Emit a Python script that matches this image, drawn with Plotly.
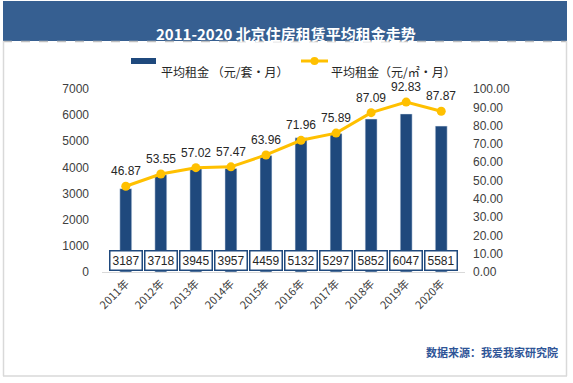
import plotly.graph_objects as go

years = ["2011年", "2012年", "2013年", "2014年", "2015年", "2016年", "2017年", "2018年", "2019年", "2020年"]
rent_per_unit = [3187, 3718, 3945, 3957, 4459, 5132, 5297, 5852, 6047, 5581]
rent_per_sqm = [46.87, 53.55, 57.02, 57.47, 63.96, 71.96, 75.89, 87.09, 92.83, 87.87]

W, H = 573, 383
L, R, T, B = 102, 465, 89, 272  # plot area in pixels

def px(x):
    return (x - L) / (R - L)

def py(y):
    return (B - y) / (B - T)

BAR = "#1F497D"
LINE = "#FFC000"
FONT = "Liberation Sans, Noto Sans CJK SC, sans-serif"
CJK = "Noto Sans CJK SC, sans-serif"

fig = go.Figure()
fig.add_trace(go.Bar(x=years, y=rent_per_unit, marker_color=BAR, width=0.34,
                     name="平均租金 （元/套·月）", yaxis="y"))
fig.add_trace(go.Scatter(x=years, y=rent_per_sqm, mode="lines+markers",
                         line=dict(color=LINE, width=3), marker=dict(color=LINE, size=9),
                         name="平均租金（元/㎡·月）", yaxis="y2"))

ann = []
for yr, v in zip(years, rent_per_unit):
    ann.append(dict(x=yr, y=0, xref="x", yref="y", text=str(v), showarrow=False,
                    yshift=12, bgcolor="white", bordercolor=BAR, borderwidth=1.5,
                    borderpad=2, font=dict(family=FONT, size=12, color="#262626")))
for yr, v in zip(years, rent_per_sqm):
    ann.append(dict(x=yr, y=v, xref="x", yref="y2", text=f"{v:.2f}", showarrow=False,
                    yshift=15, font=dict(family=FONT, size=12, color="#262626")))

# title
ann.append(dict(x=px(286), y=py(21), xref="paper", yref="paper", showarrow=False,
                text="<b>2011-2020 北京住房租赁平均租金走势</b>",
                font=dict(family=CJK, size=15, color="white")))
# legend texts
ann.append(dict(x=px(159), y=py(61), xref="paper", yref="paper", showarrow=False,
                xanchor="left", text="平均租金 （元/套·月）",
                font=dict(family=CJK, size=12, color="#262626")))
ann.append(dict(x=px(329), y=py(61), xref="paper", yref="paper", showarrow=False,
                xanchor="left", text="平均租金（元/㎡·月）",
                font=dict(family=CJK, size=12, color="#262626")))
# source
ann.append(dict(x=px(560), y=py(362), xref="paper", yref="paper", showarrow=False,
                xanchor="right", text="<b>数据来源：我爱我家研究院</b>",
                font=dict(family=CJK, size=11, color="#2F5597")))

shapes = [
    # header band
    dict(type="rect", xref="paper", yref="paper", x0=px(3), x1=px(567), y0=py(1), y1=py(41),
         fillcolor="#365F91", line=dict(width=0), layer="below"),
    dict(type="line", xref="paper", yref="paper", x0=px(3), x1=px(567), y0=py(41.5), y1=py(41.5),
         line=dict(color="#BFBFBF", width=1.5, dash="dash")),
    # border
    dict(type="line", xref="paper", yref="paper", x0=px(3.5), x1=px(3.5), y0=py(41), y1=py(376),
         line=dict(color="#D9D9D9", width=1.5)),
    dict(type="line", xref="paper", yref="paper", x0=px(566.5), x1=px(566.5), y0=py(41), y1=py(376),
         line=dict(color="#D9D9D9", width=1.5)),
    dict(type="line", xref="paper", yref="paper", x0=px(3), x1=px(567), y0=py(376), y1=py(376),
         line=dict(color="#D9D9D9", width=1.5)),
    # legend symbols
    dict(type="rect", xref="paper", yref="paper", x0=px(131), x1=px(156), y0=py(58), y1=py(64),
         fillcolor=BAR, line=dict(width=0)),
    dict(type="line", xref="paper", yref="paper", x0=px(301), x1=px(328), y0=py(61), y1=py(61),
         line=dict(color=LINE, width=3)),
    dict(type="circle", xref="paper", yref="paper", x0=px(310.5), x1=px(318.5), y0=py(57), y1=py(65),
         fillcolor=LINE, line=dict(width=0)),
]

fig.update_layout(
    width=W, height=H, showlegend=False,
    paper_bgcolor="white", plot_bgcolor="white",
    margin=dict(l=L, r=W - R, t=T, b=H - B),
    font=dict(family=FONT, size=12, color="#404040"),
    xaxis=dict(tickangle=-45, showgrid=False, showline=True, linecolor="#D9D9D9", linewidth=1,
               ticks="", tickfont=dict(family=CJK, size=11, color="#404040")),
    yaxis=dict(range=[0, 7000], dtick=1000, showgrid=False, zeroline=False, showline=False,
               ticks="", tickfont=dict(size=12), ticklabelstandoff=12),
    yaxis2=dict(range=[0, 100], dtick=10, tickformat=".2f", overlaying="y", side="right",
                showgrid=False, zeroline=False, showline=False, ticks="", tickfont=dict(size=12),
                ticklabelstandoff=7),
    annotations=ann, shapes=shapes, bargap=0.6,
)

fig.write_html("out.html", config={"displayModeBar": False},
               post_script="document.body.style.margin='0';document.body.style.overflow='hidden';")
